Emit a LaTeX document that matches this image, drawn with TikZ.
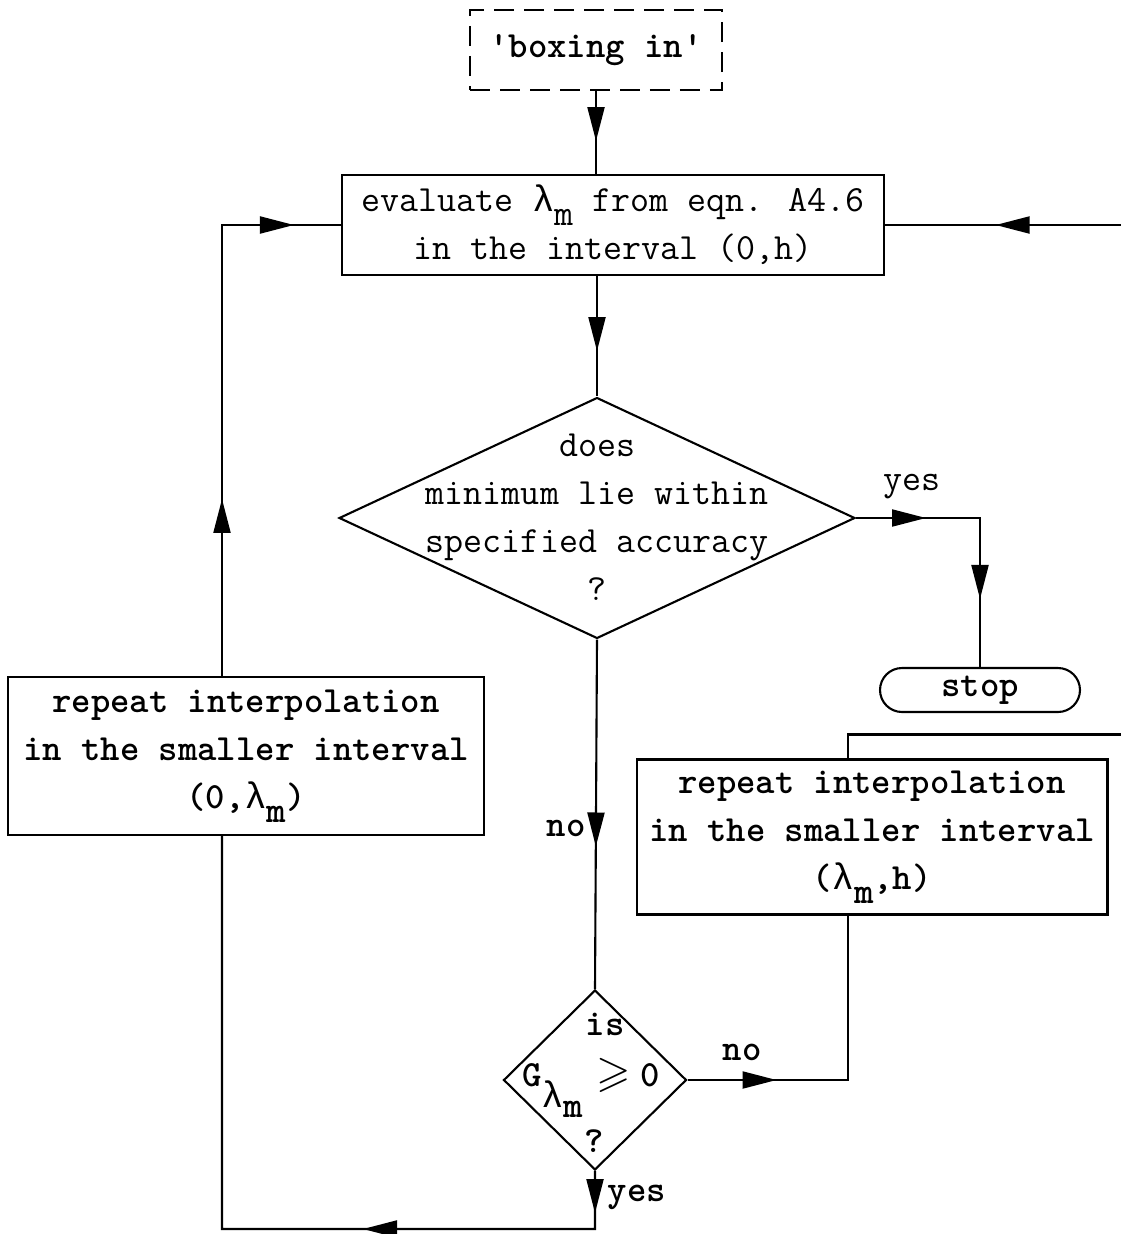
\documentclass[tikz,border=0pt]{standalone}
\usepackage{fontspec}
\usepackage{amssymb}
\newfontfamily\gk{Liberation Mono}
\usetikzlibrary{shapes.geometric,arrows.meta,decorations.markings}
\newcommand\lam{{\gk\mdseries λ}}
\newcommand\subm{\raisebox{-8pt}{m}}
\tikzset{
  tipat/.style={postaction={decorate,decoration={markings,
     mark=at position #1 with {\arrow{Triangle[length=0.68cm,width=0.34cm]}}}}},
  txt/.style={font=\ttfamily\fontsize{21}{27.3}\selectfont, inner sep=0pt},
  bold/.style={font=\ttfamily\bfseries\fontsize{21}{27.3}\selectfont},
  boxnode/.style={txt, draw, rectangle, align=center},
  decision/.style={diamond, draw, inner sep=0pt},
}
\begin{document}
\begin{tikzpicture}[x=0.02cm,y=-0.02cm,line width=1.2pt]
\useasboundingbox (0,0) rectangle (1120,1234);

% nodes
\node[boxnode, bold, dashed, dash pattern=on 0.4cm off 0.2cm, minimum width=5.04cm, minimum height=1.6cm] (start) at (596,50) {'boxing in'};
\node[boxnode, minimum width=10.84cm, minimum height=2cm] (eval) at (613,225) {evaluate \lam\subm{} from eqn. A4.6\\in the interval (0,h)};
\node[decision, minimum width=10.32cm, minimum height=4.82cm] (d1) at (597,518) {};
\node[txt, align=center] (d1t) at (597,517) {does\\minimum lie within\\specified accuracy\\?};
\node[txt, bold, draw, rounded corners=0.44cm, minimum width=4cm, minimum height=0.88cm] (stop) at (980,690) {stop};
\node[boxnode, bold, minimum width=9.52cm, minimum height=3.16cm] (lb) at (246,756) {repeat interpolation\\in the smaller interval\\(0,\lam\subm)};
\node[boxnode, bold, minimum width=9.42cm, minimum height=3.1cm] (rb) at (872,837) {repeat interpolation\\in the smaller interval\\(\lam\subm,h)};
\node[decision, minimum width=3.66cm, minimum height=3.6cm] (d2) at (595,1080) {};
\node[txt, bold] (d2a) at (605,1024) {is};
\node[txt, bold, anchor=base west] (d2b) at (521,1086) {G\raisebox{-12.5pt}{\lam\raisebox{-5.5pt}{m}}\hspace{8pt}\scalebox{1.2}{\boldmath$\geqslant$}\hspace{5pt}0};
\node[txt, bold] (d2c) at (594,1141) {?};

% labels
\node[txt] (yes1) at (912,487) {yes};
\node[txt, bold] (no1) at (566,828) {no};
\node[txt, bold] (no2) at (742,1052) {no};
\node[txt, bold] (yes2) at (637,1197) {yes};

% helper coordinates
\coordinate (offR) at (1130,500);
\coordinate (bl) at (222,1229);

% connectors
\draw[tipat=1.0cm] (start.south) -- (start.south |- eval.north);
\draw[tipat=1.5cm] (eval.south -| d1.north) -- (d1.north);
\draw[tipat=1.4cm, tipat=4.1cm] (d1.east) -| (stop.north);
\draw[tipat=4.14cm] (d1.south) -- (d2.north);
\draw[tipat=1.78cm] (d2.east) -| ([xshift=-0.48cm]rb.south);
\draw[tipat=19cm] ([xshift=-0.48cm]rb.north) -- ++(0,-24) -| (offR) |- (eval.east);
\draw[tipat=0.84cm, tipat=5.8cm] (d2.south) |- (bl) -- ([xshift=-0.48cm]lb.south);
\draw[tipat=3.54cm, tipat=10.46cm] ([xshift=-0.48cm]lb.north) |- (eval.west);
\end{tikzpicture}
\end{document}
